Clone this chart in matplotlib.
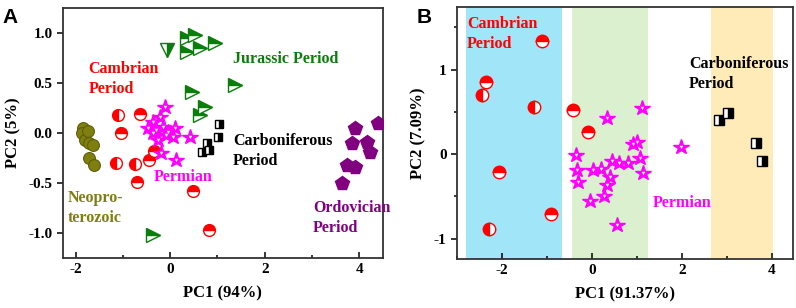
import matplotlib.pyplot as plt

plt.rcParams["font.family"] = ["Liberation Serif", "DejaVu Serif"]
plt.rcParams["font.weight"] = "bold"

# ── Panel A data (PC1 94 %, PC2 5 %) ───────────────────────────────────────
a_neo_x = [-1.84, -1.86, -1.80, -1.75, -1.71, -1.63, -1.71, -1.61]
a_neo_y = [0.05, 0.00, -0.07, 0.02, -0.10, -0.12, -0.25, -0.32]

a_cam_top_x = [-0.63, -1.04, -0.34, -0.44, -0.70, 0.49, 0.82]
a_cam_top_y = [0.19, 0.00, -0.18, -0.27, -0.49, -0.58, -0.97]
a_cam_left_x = [-1.10, -1.14, -0.74]
a_cam_left_y = [0.18, -0.30, -0.31]

a_jur_x = [0.36, 0.53, 0.36, 0.63, 0.95, 1.37, 0.47, 0.74, 0.63, -0.36]
a_jur_y = [0.95, 0.98, 0.81, 0.85, 0.90, 0.48, 0.41, 0.26, 0.18, -1.02]
a_jur_down_x = [-0.06]
a_jur_down_y = [0.83]

a_perm_x = [-0.11, -0.21, -0.36, -0.47, -0.30, -0.15, -0.04, 0.11, 0.06,
            -0.08, 0.42, -0.19, 0.13, -0.36, -0.25]
a_perm_y = [0.26, 0.16, 0.11, 0.05, 0.03, 0.06, 0.01, 0.05, -0.04,
            -0.02, -0.04, -0.20, -0.27, 0.00, -0.07]

a_carb_x = [1.04, 1.01, 0.78, 0.68, 0.82]
a_carb_y = [0.09, -0.04, -0.10, -0.19, -0.17]

a_ord_x = [3.91, 4.40, 3.85, 4.17, 4.23, 3.74, 3.91, 3.64]
a_ord_y = [0.05, 0.10, -0.10, -0.09, -0.19, -0.32, -0.34, -0.50]

# ── Panel B data (PC1 91.37 %, PC2 7.09 %) ─────────────────────────────────
b_cam_top_x = [-1.11, -2.36, -0.42, -0.09, -2.07, -0.91]
b_cam_top_y = [1.34, 0.85, 0.52, 0.26, -0.21, -0.71]
b_cam_left_x = [-2.44, -1.29, -2.29]
b_cam_left_y = [0.70, 0.56, -0.89]

b_perm_x = [0.33, 1.11, -0.36, -0.33, -0.31, 0.02, 0.20, 0.44, 0.60, 0.80,
            0.40, 0.33, 0.27, -0.04, 0.56, 0.91, 1.00, 1.07, 1.13, 1.98]
b_perm_y = [0.43, 0.54, -0.01, -0.19, -0.33, -0.19, -0.17, -0.08, -0.11, -0.11,
            -0.27, -0.37, -0.49, -0.56, -0.84, 0.12, 0.14, -0.04, -0.22, 0.08]

b_carb_x = [3.02, 2.82, 3.64, 3.78]
b_carb_y = [0.49, 0.40, 0.13, -0.08]

# shaded PC1 ranges in panel B
b_bands = [(-2.8, -0.67, "#A0E6F8"), (-0.44, 1.25, "#DAF0CF"), (2.64, 4.02, "#FEEBB8")]

RED = "#FF0000"
GREEN = "#0A7D0A"
MAG = "#FF00FF"
PURP = "#800080"
OLIVE = "#7F7F10"
FS = 11.5


def half(ax, x, y, marker, fs, color, ms, alt="white", zorder=3):
    ax.plot(x, y, ls="none", marker=marker, fillstyle=fs, ms=ms,
            markerfacecolor=color, markerfacecoloralt=alt,
            markeredgecolor=color, markeredgewidth=1.0, zorder=zorder)


def stars(ax, x, y):
    # magenta stars with a small white mark inside
    ax.plot(x, y, ls="none", marker="*", ms=11.5, color=MAG,
            markeredgecolor=MAG, zorder=3)
    ax.plot(x, y, ls="none", marker="v", ms=2.5, color="white",
            markeredgewidth=0, zorder=3)


def style(ax):
    for s in ax.spines.values():
        s.set_linewidth(1.3)
        s.set_color("#333333")
    ax.tick_params(axis="y", which="both", direction="out", labelsize=11, width=1.1)
    ax.tick_params(axis="x", which="both", direction="in", labelsize=11, width=1.1)
    ax.tick_params(which="major", length=4)
    ax.tick_params(which="minor", length=2.5)
    for lab in ax.get_xticklabels() + ax.get_yticklabels():
        lab.set_fontweight("bold")


fig = plt.figure(figsize=(7.96, 3.08), dpi=100)

# ── Panel A ────────────────────────────────────────────────────────────────
ax = fig.add_axes([0.0791, 0.1623, 0.4019, 0.8117])
ax.plot(a_neo_x, a_neo_y, ls="none", marker="o", ms=8.5, color=OLIVE,
        markeredgecolor="#5E5E08", markeredgewidth=0.8, zorder=3)
half(ax, a_cam_top_x, a_cam_top_y, "o", "top", RED, 8.5)
half(ax, a_cam_left_x, a_cam_left_y, "o", "left", RED, 8.5)
half(ax, a_jur_x, a_jur_y, ">", "top", GREEN, 9.5)
half(ax, a_jur_down_x, a_jur_down_y, "v", "right", GREEN, 9.5)
stars(ax, a_perm_x, a_perm_y)
half(ax, a_carb_x, a_carb_y, "s", "right", "black", 6)
ax.plot(a_ord_x, a_ord_y, ls="none", marker="p", ms=10, color=PURP, zorder=3)

ax.text(1.33, 0.74, "Jurassic Period", color=GREEN, fontsize=FS, va="center")
ax.text(-1.73, 0.72, "Cambrian\nPeriod", color=RED, fontsize=FS, va="top",
        linespacing=1.35)
ax.text(1.33, 0.0, "Carboniferous\nPeriod", color="black", fontsize=FS,
        va="top", linespacing=1.35)
ax.text(-0.36, -0.44, "Permian", color=MAG, fontsize=FS, va="center")
ax.text(-2.16, -0.57, "Neopro-\nterozoic", color=OLIVE, fontsize=FS,
        va="top", linespacing=1.35)
ax.text(3.02, -0.67, "Ordovician\nPeriod", color=PURP, fontsize=FS,
        va="top", linespacing=1.35)

ax.set_xlim(-2.27, 4.5)
ax.set_ylim(-1.25, 1.25)
ax.set_xticks([-2, 0, 2, 4])
ax.set_xticks([-1, 1, 3], minor=True)
ax.set_yticks([-1.0, -0.5, 0.0, 0.5, 1.0])
ax.set_yticklabels(["-1.0", "-0.5", "0.0", "0.5", "1.0"])
ax.set_xticklabels(["-2", "0", "2", "4"])
ax.set_xlabel("PC1 (94%)", fontsize=12, fontweight="bold", labelpad=7)
ax.set_ylabel("PC2 (5%)", fontsize=12, fontweight="bold", labelpad=5)
style(ax)
fig.text(0.003, 0.975, "A", fontsize=15, fontweight="bold",
         family=["Liberation Sans", "DejaVu Sans"], va="top")

# ── Panel B ────────────────────────────────────────────────────────────────
bx = fig.add_axes([0.5741, 0.1591, 0.4221, 0.8182])
for x0, x1, c in b_bands:
    bx.axvspan(x0, x1, color=c, lw=0, zorder=0)
half(bx, b_cam_top_x, b_cam_top_y, "o", "top", RED, 9)
half(bx, b_cam_left_x, b_cam_left_y, "o", "left", RED, 9)
stars(bx, b_perm_x, b_perm_y)
half(bx, b_carb_x, b_carb_y, "s", "right", "black", 6.5)

bx.text(-2.78, 1.63, "Cambrian\nPeriod", color=RED, fontsize=FS, va="top",
        linespacing=1.35)
bx.text(2.16, 1.16, "Carboniferous\nPeriod", color="black", fontsize=FS,
        va="top", linespacing=1.35)
bx.text(1.36, -0.58, "Permian", color=MAG, fontsize=FS, va="center")

bx.set_xlim(-3.0, 4.47)
bx.set_ylim(-1.24, 1.74)
bx.set_xticks([-2, 0, 2, 4])
bx.set_xticks([-3, -1, 1, 3], minor=True)
bx.set_yticks([-1, 0, 1])
bx.set_yticks([-0.5, 0.5, 1.5], minor=True)
bx.set_xticklabels(["-2", "0", "2", "4"])
bx.set_yticklabels(["-1", "0", "1"])
bx.set_xlabel("PC1 (91.37%)", fontsize=12, fontweight="bold", labelpad=7)
bx.set_ylabel("PC2 (7.09%)", fontsize=12, fontweight="bold", labelpad=5)
style(bx)
fig.text(0.523, 0.975, "B", fontsize=15, fontweight="bold",
         family=["Liberation Sans", "DejaVu Sans"], va="top")

fig.savefig("out.png", dpi=100)
